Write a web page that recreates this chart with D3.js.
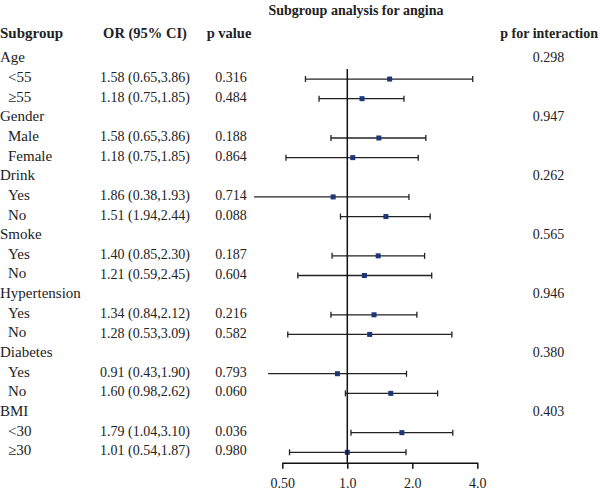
<!DOCTYPE html>
<html lang="en">
<head>
<meta charset="utf-8">
<style>
  body { margin: 0; background: #fff; }
  text { font-family: "Liberation Serif", "DejaVu Serif", serif; fill: #222; }
  .ci { stroke: #222; stroke-width: 1.3px; }
  .ref { stroke: #111; stroke-width: 1.5px; }
  .axis path, .axis line { stroke: #111; stroke-width: 1.5px; }
</style>
</head>
<body>
<svg width="600" height="494"></svg>
<script src="https://cdn.jsdelivr.net/npm/d3@7"></script>
<script>
// ---- data ----
var groups = ["Age", "Gender", "Drink", "Smoke", "Hypertension", "Diabetes", "BMI"];
var pInteraction = ["0.298", "0.947", "0.262", "0.565", "0.946", "0.380", "0.403"];
var subgroups = ["<55", "\u226555", "Male", "Female", "Yes", "No", "Yes", "No", "Yes", "No", "Yes", "No", "<30", "\u226530"];
var orText = ["1.58 (0.65,3.86)", "1.18 (0.75,1.85)", "1.58 (0.65,3.86)", "1.18 (0.75,1.85)",
              "1.86 (0.38,1.93)", "1.51 (1.94,2.44)", "1.40 (0.85,2.30)", "1.21 (0.59,2.45)",
              "1.34 (0.84,2.12)", "1.28 (0.53,3.09)", "0.91 (0.43,1.90)", "1.60 (0.98,2.62)",
              "1.79 (1.04,3.10)", "1.01 (0.54,1.87)"];
var pValues = ["0.316", "0.484", "0.188", "0.864", "0.714", "0.088", "0.187", "0.604",
               "0.216", "0.582", "0.793", "0.060", "0.036", "0.980"];
// plotted estimates (as drawn)
var orEst = [1.57, 1.17, 1.40, 1.06, 0.86, 1.51, 1.39, 1.20, 1.33, 1.27, 0.90, 1.59, 1.79, 1.00];
var ciLow = [0.64, 0.74, 0.84, 0.52, 0.37, 0.93, 0.85, 0.59, 0.84, 0.53, 0.43, 0.98, 1.04, 0.54];
var ciHigh = [3.81, 1.83, 2.31, 2.13, 1.93, 2.42, 2.28, 2.46, 2.10, 3.05, 1.88, 2.62, 3.08, 1.87];
var tickVals = [0.5, 1, 2, 4];
var tickLabels = ["0.50", "1.0", "2.0", "4.0"];

var svg = d3.select("svg");

// build row list: header row then two subgroup rows per group
var rows = [];
groups.forEach(function (g, gi) {
    rows.push({ type: "group", label: g, p: pInteraction[gi] });
    for (var k = 0; k < 2; k++) {
        var i = gi * 2 + k;
        rows.push({ type: "sub", label: subgroups[i], or: orText[i], pv: pValues[i],
                    est: orEst[i], lo: ciLow[i], hi: ciHigh[i] });
    }
});

var x = d3.scaleLog().base(2).domain([0.5, 4]).range([282.3, 477.3]);
var y = d3.scaleLinear().domain([0, rows.length - 1]).range([59.4, 452.3]);
var axisY = 462.7;

// title and headers
svg.append("text").attr("x", 356).attr("y", 15).attr("text-anchor", "middle")
    .style("font-weight", "bold").style("font-size", "14px").text("Subgroup analysis for angina");
var headers = [["Subgroup", 0, "start", 15], ["OR (95% CI)", 145, "middle", 14.5],
               ["p value", 229, "middle", 14.5], ["p for interaction", 598, "end", 14]];
headers.forEach(function (h) {
    svg.append("text").attr("x", h[1]).attr("y", 38).attr("text-anchor", h[2])
        .style("font-weight", "bold").style("font-size", h[3] + "px").text(h[0]);
});

// table text
var rowG = svg.selectAll(".row").data(rows).enter().append("g").attr("class", "row")
    .attr("transform", function (d, i) { return "translate(0," + y(i) + ")"; });

rowG.append("text")
    .attr("x", function (d) { return d.type === "group" ? 0 : 8; })
    .attr("dy", "0.2em").style("font-size", "15px")
    .text(function (d) { return d.label; });

rowG.filter(function (d) { return d.type === "sub"; }).append("text")
    .attr("x", 145).attr("dy", "0.22em").attr("text-anchor", "middle").style("font-size", "14px")
    .text(function (d) { return d.or; });

rowG.filter(function (d) { return d.type === "sub"; }).append("text")
    .attr("x", 231).attr("dy", "0.22em").attr("text-anchor", "middle").style("font-size", "14px")
    .text(function (d) { return d.pv; });

rowG.filter(function (d) { return d.type === "group"; }).append("text")
    .attr("x", 548.5).attr("dy", "0.22em").attr("text-anchor", "middle").style("font-size", "14px")
    .text(function (d) { return d.p; });

// reference line at OR = 1
svg.append("line").attr("class", "ref")
    .attr("x1", x(1)).attr("x2", x(1)).attr("y1", 69).attr("y2", axisY);

// CI bars
var sub = rowG.filter(function (d) { return d.type === "sub"; });
sub.append("line").attr("class", "ci")
    .attr("x1", function (d) { return x(d.lo); }).attr("x2", function (d) { return x(d.hi); });
sub.filter(function (d) { return d.lo >= 0.5; }).append("line").attr("class", "ci")
    .attr("x1", function (d) { return x(d.lo); }).attr("x2", function (d) { return x(d.lo); })
    .attr("y1", -3).attr("y2", 3);
sub.append("line").attr("class", "ci")
    .attr("x1", function (d) { return x(d.hi); }).attr("x2", function (d) { return x(d.hi); })
    .attr("y1", -3).attr("y2", 3);
sub.append("rect")
    .attr("x", function (d) { return x(d.est) - 2.5; }).attr("y", -2.5)
    .attr("width", 5).attr("height", 5).attr("fill", "#1c3678");

// x axis
var axis = svg.append("g").attr("class", "axis").attr("transform", "translate(0," + axisY + ")")
    .call(d3.axisBottom(x).tickValues(tickVals).tickSizeInner(6).tickSizeOuter(0).tickPadding(9)
        .tickFormat(function (d, i) { return tickLabels[i]; }));
axis.selectAll("text").style("font-size", "14px").style("font-family", "Liberation Serif").attr("fill", "#222");
</script>
</body>
</html>
